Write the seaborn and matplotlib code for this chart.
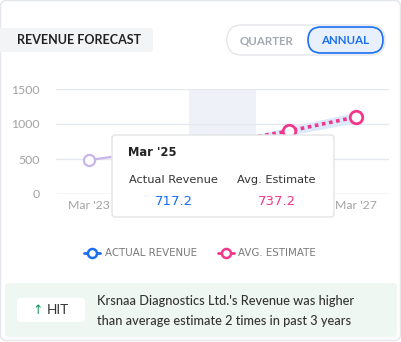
import matplotlib
matplotlib.use("Agg")
import matplotlib.pyplot as plt
from matplotlib.patches import FancyBboxPatch
from matplotlib.lines import Line2D
import seaborn as sns
import pandas as pd

# ---- data ----
periods = ["Mar '23", "Mar '24", "Mar '25", "Mar '26", "Mar '27"]
actual_periods = ["Mar '23", "Mar '24", "Mar '25"]
actual_revenue = [485, 618, 717.2]
estimate_periods = ["Mar '25", "Mar '26", "Mar '27"]
avg_estimate = [737.2, 900, 1100]
estimate_low = [737.2, 840, 1020]
estimate_high = [737.2, 960, 1170]
y_ticks = [0, 500, 1000, 1500]
hover_period = "Mar '25"
tooltip_actual = "717.2"
tooltip_estimate = "737.2"
title = "REVENUE FORECAST"
toggle_labels = ["QUARTER", "ANNUAL"]
legend_labels = ["ACTUAL REVENUE", "AVG. ESTIMATE"]
hit_label = "HIT"
summary_lines = ["Krsnaa Diagnostics Ltd.'s Revenue was higher",
                 "than average estimate 2 times in past 3 years"]

W, H = 402, 342
sns.set_theme(style="white")
plt.rcParams["font.family"] = ["Lato", "DejaVu Sans"]

fig = plt.figure(figsize=(W / 100, H / 100), dpi=100)
fig.patch.set_facecolor("white")

def fx(x):
    return x / W

def fy(y):
    return 1 - y / H

# axes placement (pixels)
ax_l, ax_r, ax_t, ax_b = 55.6, 389.4, 89.0, 194.0
ax = fig.add_axes([fx(ax_l), fy(ax_b), (ax_r - ax_l) / W, (ax_b - ax_t) / H])
ax.set_facecolor("white")

pos = {p: i for i, p in enumerate(periods)}
df_act = pd.DataFrame({"x": [pos[p] for p in actual_periods], "y": actual_revenue})
df_est = pd.DataFrame({"x": [pos[p] for p in estimate_periods], "y": avg_estimate,
                       "lo": estimate_low, "hi": estimate_high})

# hover band
hx = pos[hover_period]
ax.axvspan(hx - 0.5, hx + 0.5, color="#eef2f8", zorder=0, lw=0)

for v in y_ticks:
    ax.axhline(v, color="#cfd3e3" if v == 0 else "#e4e7ec", lw=1, zorder=1)

ax.fill_between(df_est["x"], df_est["lo"], df_est["hi"], color="#dce9fb", lw=0, zorder=2)

purple = "#c8b5ea"
pink = "#f0378c"
blue = "#1a6ff0"

sns.lineplot(data=df_act, x="x", y="y", ax=ax, color=purple, lw=1.6, marker="o",
             markersize=8, markerfacecolor="white", markeredgecolor=purple,
             markeredgewidth=1.6, zorder=3, legend=False)
sns.lineplot(data=df_est, x="x", y="y", ax=ax, color=pink, lw=2.6, linestyle=(0, (1, 1)),
             marker="o", markersize=9, markerfacecolor="white", markeredgecolor=pink,
             markeredgewidth=2.0, zorder=4, legend=False)

ax.set_xlim(-0.5, len(periods) - 0.5)
ax.set_ylim(0, 1500)
ax.set_xticks(range(len(periods)))
ax.set_xticklabels(periods)
ax.set_yticks(y_ticks)
ax.set_yticklabels([str(v) for v in y_ticks])
ax.set_xlabel("")
ax.set_ylabel("")
ax.tick_params(axis="both", length=0, labelsize=8.8, labelcolor="#a2a2a2")
ax.tick_params(axis="y", pad=11.5)
ax.tick_params(axis="x", pad=4.5)
# labels lying under the tooltip are hidden, as in the reference
for lbl in ax.get_xticklabels()[1:4]:
    lbl.set_visible(False)
for s in ax.spines.values():
    s.set_visible(False)
ax.grid(False)

IN = fig.dpi_scale_trans

def rbox(x0, y0, x1, y1, r, fc, ec="none", lw=0.0, z=5):
    p = FancyBboxPatch((x0 / 100, (H - y1) / 100), (x1 - x0) / 100, (y1 - y0) / 100,
                       boxstyle=f"round,pad=0,rounding_size={r / 100}",
                       transform=IN, facecolor=fc, edgecolor=ec, lw=lw, zorder=z)
    fig.patches.append(p)
    return p

# card border
rbox(0.5, 0.5, 400.5, 340.5, 6, "none", "#e3e6ea", 1.0, z=1)

# header
rbox(-6, 28, 153, 52, 3, "#f3f4f6", z=2)
fig.text(fx(17), fy(40.5), title, fontsize=9, fontweight="bold", color="#222222",
         va="center", ha="left", zorder=3)
rbox(227, 25, 385, 55, 15, "white", "#e3e6ea", 1.0, z=2)
rbox(308, 27, 383, 53, 13, "#e8f0fe", "#1a6ff0", 1.2, z=3)
fig.text(fx(267), fy(40.5), toggle_labels[0], fontsize=8.3, fontweight="bold",
         color="#a3a8b1", ha="center", va="center", zorder=4)
fig.text(fx(345.5), fy(40.5), toggle_labels[1], fontsize=8.3, fontweight="bold",
         color="#1a6ff0", ha="center", va="center", zorder=4)

# tooltip
rbox(112, 135, 334, 217, 3, "white", "#e1e4e8", 1.0, z=6)
tf = ["DejaVu Sans"]
fig.text(fx(128), fy(155.7), hover_period, fontsize=8.3, fontweight="bold", color="#222222",
         family=tf, ha="left", va="baseline", zorder=7)
fig.text(fx(173.5), fy(183.3), "Actual Revenue", fontsize=8.2, color="#333333",
         family=tf, ha="center", va="baseline", zorder=7)
fig.text(fx(276.5), fy(183.3), "Avg. Estimate", fontsize=8.2, color="#333333",
         family=tf, ha="center", va="baseline", zorder=7)
fig.text(fx(174), fy(205), tooltip_actual, fontsize=9.5, color=blue,
         family=tf, ha="center", va="baseline", zorder=7)
fig.text(fx(276.5), fy(205), tooltip_estimate, fontsize=9.5, color=pink,
         family=tf, ha="center", va="baseline", zorder=7)

# legend
for (x0, x1, xc, col, lab, tx) in [(84, 100, 92, blue, legend_labels[0], 105),
                                    (218, 234, 226, pink, legend_labels[1], 238)]:
    fig.lines.append(Line2D([fx(x0), fx(x1)], [fy(252.5), fy(252.5)], transform=fig.transFigure,
                            color=col, lw=2.0, zorder=5))
    fig.lines.append(Line2D([fx(xc)], [fy(252.5)], transform=fig.transFigure, marker="o",
                            markersize=6.5, markerfacecolor="white", markeredgecolor=col,
                            markeredgewidth=1.8, color=col, zorder=6))
    fig.text(fx(tx), fy(252.5), lab, fontsize=7.4, color="#7a7a7a", family=tf,
             ha="left", va="center", zorder=6)

# bottom summary
rbox(5, 283, 397, 337, 4, "#eef7f1", z=2)
rbox(17, 298, 85, 322, 4, "white", z=3)
fig.text(fx(38), fy(310), "\u2191", fontsize=9, color="#17945a", family=["DejaVu Sans"],
         ha="center", va="center", zorder=4)
fig.text(fx(47), fy(310.5), hit_label, fontsize=9.8, color="#333333",
         ha="left", va="center", zorder=4)
fig.text(fx(97), fy(305), summary_lines[0], fontsize=9.2, color="#333333", fontweight=500,
         ha="left", va="baseline", zorder=4)
fig.text(fx(97), fy(325), summary_lines[1], fontsize=9.2, color="#333333", fontweight=500,
         ha="left", va="baseline", zorder=4)

fig.savefig("out.png", dpi=100)
